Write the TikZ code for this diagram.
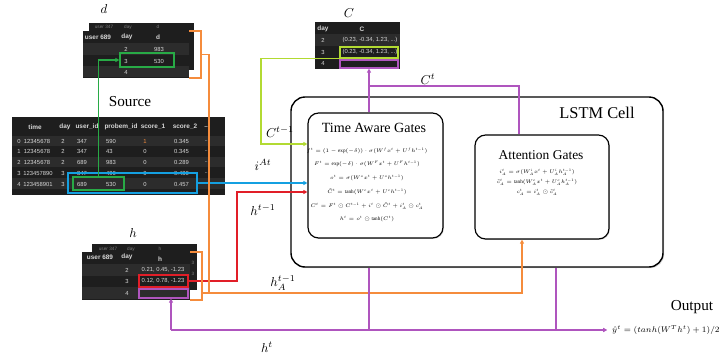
\documentclass[tikz,border=0pt]{standalone}
\usepackage{fix-cm}
\usepackage{amsmath}
\usepackage{fontspec}
\setmainfont{Liberation Serif}
\setsansfont{Liberation Sans}
\usetikzlibrary{arrows.meta,fit,shadows}

\definecolor{tabdark}{RGB}{30,30,30}
\definecolor{tabrow}{RGB}{44,44,44}
\definecolor{tabtext}{RGB}{215,215,215}
\definecolor{tabfaint}{RGB}{125,125,125}
\definecolor{selgreen}{RGB}{40,170,70}
\definecolor{sellime}{RGB}{178,218,50}
\definecolor{selblue}{RGB}{20,160,225}
\definecolor{selred}{RGB}{225,30,40}
\definecolor{hidorange}{RGB}{245,140,60}
\definecolor{outpurple}{RGB}{175,85,190}

\tikzset{
  tabbg/.style={fill=tabdark, inner sep=0pt},
  stripe/.style={fill=tabrow, inner sep=0pt},
  cell/.style={font=\sffamily\fontsize{5}{5}\selectfont, text=tabtext, inner sep=0pt},
  hcell/.style={cell, font=\sffamily\bfseries\fontsize{5.5}{5.5}\selectfont},
  faint/.style={cell, text=tabfaint, font=\sffamily\fontsize{4}{4}\selectfont},
  sel/.style={draw=#1, line width=1pt, inner sep=0pt},
  gatebox/.style={draw, line width=1pt, rounded corners=9pt, inner sep=0pt, fill=white},
  flow/.style={line width=1.5pt, -{Triangle[length=3.5pt,width=3.5pt]}},
  link/.style={line width=1.5pt},
  eq/.style={font=\fontsize{4.4}{5}\selectfont, inner sep=0pt},
  varlab/.style={font=\fontsize{11}{12}\selectfont, inner sep=0pt},
  tablab/.style={font=\fontsize{13}{14}\selectfont, inner sep=0pt},
}

\begin{document}
\begin{tikzpicture}[x=0.03cm, y=-0.03cm]
  \useasboundingbox (0,0) rectangle (725,358);

  % source table
  \node[tablab] (srclab) at (130,102) {Source};
  \node[tabbg, fit={(12,117) (225,195)}] (srctab) {};
  \node[stripe, fit={(12,136) (225,146)}] (sr0) {};
  \node[stripe, fit={(12,157) (225,167)}] (sr2) {};
  \node[stripe, fit={(12,178) (225,189)}] (sr4) {};
  \path
    (35,127) node[hcell] (sh1) {time}
    (65,127) node[hcell] (sh2) {day}
    (87,127) node[hcell] (sh3) {user\_id}
    (121,127) node[hcell] (sh4) {probem\_id}
    (153,127) node[hcell] (sh5) {score\_1}
    (185,127) node[hcell] (sh6) {score\_2}
    (207,127) node[hcell] (sh7) {...};
  \path
    (19,141) node[cell] (s00) {0}
    (37,141) node[cell] (s01) {12345678}
    (63,141) node[cell] (s02) {2}
    (77,141) node[cell, anchor=west] (s03) {347}
    (106,141) node[cell, anchor=west] (s04) {590}
    (145,141) node[cell, text=hidorange] (s05) {1}
    (174,141) node[cell, anchor=west] (s06) {0.345}
    (207,141) node[cell] (s07) {...}
    (19,151) node[cell] (s10) {1}
    (37,151) node[cell] (s11) {12345678}
    (63,151) node[cell] (s12) {2}
    (77,151) node[cell, anchor=west] (s13) {347}
    (106,151) node[cell, anchor=west] (s14) {43}
    (145,151) node[cell] (s15) {0}
    (174,151) node[cell, anchor=west] (s16) {0.345}
    (207,151) node[cell] (s17) {...}
    (19,162) node[cell] (s20) {2}
    (37,162) node[cell] (s21) {12345678}
    (63,162) node[cell] (s22) {2}
    (77,162) node[cell, anchor=west] (s23) {689}
    (106,162) node[cell, anchor=west] (s24) {983}
    (145,162) node[cell] (s25) {0}
    (174,162) node[cell, anchor=west] (s26) {0.289}
    (207,162) node[cell] (s27) {...}
    (19,173) node[cell] (s30) {3}
    (38,173) node[cell] (s31) {123457890}
    (63,173) node[cell] (s32) {3}
    (77,173) node[cell, anchor=west] (s33) {347}
    (106,173) node[cell, anchor=west] (s34) {490}
    (145,173) node[cell] (s35) {0}
    (174,173) node[cell, anchor=west] (s36) {0.480}
    (207,173) node[cell] (s37) {...}
    (19,184) node[cell] (s40) {4}
    (38,184) node[cell] (s41) {123458901}
    (63,184) node[cell] (s42) {3}
    (77,184) node[cell, anchor=west] (s43) {689}
    (106,184) node[cell, anchor=west] (s44) {530}
    (145,184) node[cell] (s45) {0}
    (174,184) node[cell, anchor=west] (s46) {0.457}
    (207,184) node[cell] (s47) {...};
  \node[sel=selblue, fit={(68,173) (197,193)}] (srcrow) {};
  \node[sel=selgreen, fit={(73,177) (124,190)}] (srcsel) {};

  % d table
  \node[varlab] (dlab) at (104,9) {$d$};
  \node[tabbg, fit={(89,23) (194,70)}] (dback) {};
  \path
    (104,27) node[faint] (db1) {user 347}
    (128,27) node[faint] (db2) {day}
    (158,27) node[faint] (db3) {d};
  \node[tabbg, fit={(83,31) (189,78)}] (dtab) {};
  \node[stripe, fit={(83,43) (189,55)}] (dr2) {};
  \node[stripe, fit={(83,66) (189,77)}] (dr4) {};
  \path
    (98,37) node[hcell] (dh1) {user 689}
    (127,37) node[hcell] (dh2) {day}
    (158,37) node[hcell] (dh3) {d}
    (126,49) node[cell] (d21) {2}
    (159,49) node[cell] (d22) {983}
    (126,61) node[cell] (d31) {3}
    (159,61) node[cell] (d32) {530}
    (126,72) node[cell] (d41) {4};
  \node[sel=selgreen, fit={(120,53) (174,67)}] (dsel) {};

  % h table
  \node[varlab] (hlab) at (133,233) {$h$};
  \node[tabbg, fit={(92,244) (197,290)}] (hback) {};
  \path
    (108,249) node[faint] (hb1) {user 347}
    (131,249) node[faint] (hb2) {day}
    (160,249) node[faint] (hb3) {h}
    (193,263) node[faint] (hb4) {3}
    (193,274) node[faint] (hb5) {3};
  \node[tabbg, fit={(82,252) (190,300)}] (htab) {};
  \node[stripe, fit={(82,264) (190,276)}] (hr2) {};
  \node[stripe, fit={(82,287) (190,299)}] (hr4) {};
  \path
    (100,257) node[hcell] (hh1) {user 689}
    (127,257) node[hcell] (hh2) {day}
    (160,259) node[hcell] (hh3) {h}
    (127,270) node[cell] (h21) {2}
    (163,270) node[cell] (h22) {0.21, 0.45, -1.23}
    (127,281) node[cell] (h31) {3}
    (163,281) node[cell] (h32) {0.12, 0.78, -1.23}
    (127,293) node[cell] (h41) {4};
  \node[sel=selred, fit={(139,275) (188,287)}] (hsel) {};
  \node[sel=outpurple, fit={(139,289) (188,298)}] (hnext) {};

  % C table
  \node[varlab] (clab) at (349,13) {$C$};
  \node[tabbg, fit={(315,22) (400,69)}] (ctab) {};
  \node[stripe, fit={(315,34) (400,46)}] (cr2) {};
  \path
    (323,29) node[hcell] (ch1) {day}
    (362,29) node[hcell] (ch2) {C}
    (323,40) node[cell] (c21) {2}
    (370,40) node[cell] (c22) {(0.23, -0.34, 1.23, ...)}
    (323,52) node[cell] (c31) {3}
    (370,52) node[cell] (c32) {(0.23, -0.34, 1.23, ...)}
    (323,63) node[cell] (c41) {4};
  \node[sel=sellime, fit={(340,47) (398,58)}] (csel) {};
  \node[sel=outpurple, fit={(340,60) (398,68)}] (cnext) {};

  % LSTM cell with its two gate blocks
  \node[gatebox, rounded corners=12pt, line width=1.2pt, fit={(291,97) (663,267)},
        drop shadow={opacity=0.35, shadow xshift=1pt, shadow yshift=-1pt}] (lstm) {};
  \node[font=\fontsize{14}{15}\selectfont] (lstmlab) at (597,113) {LSTM Cell};

  \node[gatebox, fit={(308,113) (443,238)},
        drop shadow={opacity=0.3, shadow xshift=0.8pt, shadow yshift=-0.8pt}] (tag) {};
  \node[font=\fontsize{12}{13}\selectfont] (taglab) at (374,128) {Time Aware Gates};
  \path
    (367,151) node[eq] (tq1) {$f^{t} = (1-\exp(-\delta))\cdot\sigma(W^{f}x^{t}+U^{f}h^{t-1})$}
    (367,164) node[eq] (tq2) {$F^{t} = \exp(-\delta)\cdot\sigma(W^{F}x^{t}+U^{F}h^{t-1})$}
    (367,178) node[eq] (tq3) {$o^{t} = \sigma(W^{o}x^{t}+U^{o}h^{t-1})$}
    (367,192) node[eq] (tq4) {$\tilde{C}^{t} = \tanh(W^{c}x^{t}+U^{c}h^{t-1})$}
    (367,206) node[eq] (tq5) {$C^{t} = F^{t}\odot C^{t-1} + i^{t}\odot\tilde{C}^{t} + i_{A}^{t}\odot c_{A}^{t}$}
    (367,219) node[eq] (tq6) {$h^{t} = o^{t}\odot\tanh(C^{t})$};

  \node[gatebox, fit={(475,135) (609,239)},
        drop shadow={opacity=0.3, shadow xshift=0.8pt, shadow yshift=-0.8pt}] (att) {};
  \node[font=\fontsize{11.5}{12}\selectfont] (attlab) at (541,155) {Attention Gates};
  \path
    (537,172) node[eq] (aq1) {$i_{A}^{t} = \sigma(W_{A}^{i}x^{t}+U_{A}^{i}h_{A}^{t-1})$}
    (537,182) node[eq] (aq2) {$\tilde{c}_{A}^{t} = \tanh(W_{A}^{c}x^{t}+U_{A}^{c}h_{A}^{t-1})$}
    (537,192) node[eq] (aq3) {$c_{A}^{t} = i_{A}^{t}\odot\tilde{c}_{A}^{t}$};

  % output
  \node[tablab] (outlab) at (692,307) {Output};
  \node[anchor=west, inner sep=0pt, font=\fontsize{7}{8}\selectfont] (yhat) at (612,330)
    {$\hat{y}^{t} = (tanh(W^{T}h^{t})+1)/2$};

  % bend points
  \coordinate (lbend) at (261,144);
  \coordinate (rbend) at (237,192);
  \coordinate (ctbend) at (519,86);
  \coordinate (obus) at (209,293);
  \coordinate (obend) at (522,293);
  \coordinate (pbend) at (171,330);
  \coordinate (ptap) at (556,330);

  % inputs into the time aware gates
  \draw[flow, selgreen] (srcsel.north) |- (dsel.west);
  \draw[flow, selblue] (srcrow.east) -- (srcrow.east -| tag.west);
  \draw[flow, selred] (hsel.east) -| (rbend) -- (rbend -| tag.west);
  \draw[flow, sellime] (csel.south west) -| (lbend) -- (lbend -| tag.west);

  % attention hidden state
  \draw[link, hidorange] (dtab.north east) -- ++(12,0) coordinate (dbr) |- (dtab.south east);
  \draw[link, hidorange] (dbr |- dtab.east) -| (obus);
  \draw[link, hidorange] (htab.north east) -- ++(12,0) coordinate (hbr) |- (htab.south east);
  \draw[flow, hidorange] (hbr |- obus) -- (obend) -- (obend |- att.south);

  % new cell state
  \draw[flow, outpurple] (cnext.south |- tag.north) -- (cnext.south);
  \draw[link, outpurple] (ctbend |- att.north) -- (ctbend) -- (ctbend -| cnext.south);

  % new hidden state and output
  \draw[link, outpurple] (cnext.south |- lstm.south) -- (cnext.south |- pbend);
  \draw[link, outpurple] (ptap |- lstm.south) -- (ptap);
  \draw[flow, outpurple] (pbend) -- (pbend |- hnext.south);
  \draw[flow, outpurple, shorten >=4pt] (pbend) -- (pbend -| yhat.west);

  % labels on the connectors
  \node[varlab] (lbc) at (280,132) {$C^{t-1}$};
  \node[varlab] (lbi) at (263,165) {$i^{At}$};
  \node[varlab] (lbh) at (263,210) {$h^{t-1}$};
  \node[varlab] (lbha) at (283,283) {$h_{A}^{t-1}$};
  \node[varlab] (lbht) at (267,347) {$h^{t}$};
  \node[varlab] (lbct) at (428,79) {$C^{t}$};
\end{tikzpicture}
\end{document}
